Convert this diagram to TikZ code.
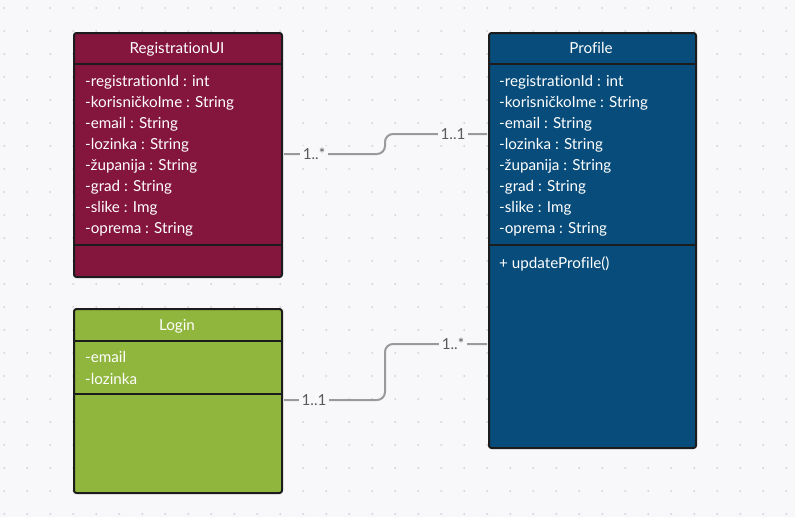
\documentclass[tikz,border=0pt]{standalone}
\usepackage{fontspec}
\setmainfont[Ligatures=NoCommon]{Lato}
\definecolor{bgc}{HTML}{F8F8FA}
\definecolor{dotc}{HTML}{D6D6DA}
\definecolor{regc}{HTML}{84153D}
\definecolor{profc}{HTML}{074C7A}
\definecolor{logc}{HTML}{90B63E}
\definecolor{edgec}{HTML}{1C1C1C}
\definecolor{connc}{HTML}{9A9A9A}
\definecolor{multc}{HTML}{5A5A5A}
\tikzset{
  umlbox/.style={draw=edgec, line width=2pt, rounded corners=2.5pt, inner sep=0pt, anchor=north west},
  sepline/.style={draw=edgec, line width=2pt},
  title/.style={text=white, font=\fontsize{15.2}{17}\selectfont, inner sep=0pt, text height=11pt, text depth=3pt},
  attr/.style={text=white, font=\fontsize{15.2}{17}\selectfont, inner sep=0pt, anchor=west, text height=11pt, text depth=3pt},
  conn/.style={draw=connc, line width=2pt, rounded corners=8pt},
  mult/.style={text=multc, fill=bgc, font=\fontsize{15.2}{17}\selectfont, inner sep=2.5pt, text height=11pt, text depth=3pt}
}
\begin{document}
\begin{tikzpicture}[x=1pt,y=-1pt]
\fill[bgc] (0,0) rectangle (795,517);
\useasboundingbox (0,0) rectangle (795,517);
\foreach \i in {0,...,34}{
  \foreach \j in {0,...,22}{
    \fill[dotc] ({4.3+23*\i},{8+23*\j}) circle (1.1);
  }
}
% RegistrationUI
\node[umlbox, fill=regc, minimum width=208pt, minimum height=244pt] (reg) at (73,32) {};
\draw[sepline] (reg.west |- 0,64) -- (reg.east |- 0,64);
\draw[sepline] (reg.west |- 0,245) -- (reg.east |- 0,245);
\node[title] (regt) at (177,49.5) {RegistrationUI};
\node[attr] (r1) at (85,82.5) {-registrationId : int};
\node[attr] (r2) at (85,103.5) {-korisničkoIme : String};
\node[attr] (r3) at (85,124.5) {-email : String};
\node[attr] (r4) at (85,145.5) {-lozinka : String};
\node[attr] (r5) at (85,166.5) {-županija : String};
\node[attr] (r6) at (85,187.5) {-grad : String};
\node[attr] (r7) at (85,208.5) {-slike : Img};
\node[attr] (r8) at (85,229.5) {-oprema : String};
% Profile
\node[umlbox, fill=profc, minimum width=207pt, minimum height=415pt] (prof) at (488,32) {};
\draw[sepline] (prof.west |- 0,64) -- (prof.east |- 0,64);
\draw[sepline] (prof.west |- 0,245) -- (prof.east |- 0,245);
\node[title] (proft) at (591,49.5) {Profile};
\node[attr] (p1) at (499,82.5) {-registrationId : int};
\node[attr] (p2) at (499,103.5) {-korisničkoIme : String};
\node[attr] (p3) at (499,124.5) {-email : String};
\node[attr] (p4) at (499,145.5) {-lozinka : String};
\node[attr] (p5) at (499,166.5) {-županija : String};
\node[attr] (p6) at (499,187.5) {-grad : String};
\node[attr] (p7) at (499,208.5) {-slike : Img};
\node[attr] (p8) at (499,229.5) {-oprema : String};
\node[attr] (pm1) at (499,264.5) {+ updateProfile()};
% Login
\node[umlbox, fill=logc, minimum width=208pt, minimum height=184pt] (log) at (73,308) {};
\draw[sepline] (log.west |- 0,341) -- (log.east |- 0,341);
\draw[sepline] (log.west |- 0,394) -- (log.east |- 0,394);
\node[title] (logt) at (177,326.5) {Login};
\node[attr] (l1) at (85,358.5) {-email};
\node[attr] (l2) at (85,380.5) {-lozinka};
% connectors
\coordinate (c1a) at (reg.east |- 0,154);
\coordinate (c1b) at (prof.west |- 0,134);
\draw[conn] ([xshift=1pt]c1a) -- (385,154) -- (385,134) -- ([xshift=-1pt]c1b);
\node[mult] (m1) at (314,155) {1..*};
\node[mult] (m2) at (453,135) {1..1};
\coordinate (c2a) at (log.east |- 0,400);
\coordinate (c2b) at (prof.west |- 0,344);
\draw[conn] ([xshift=1pt]c2a) -- (385,400) -- (385,344) -- ([xshift=-1pt]c2b);
\node[mult] (m3) at (314,401) {1..1};
\node[mult] (m4) at (453,345) {1..*};
\end{tikzpicture}
\end{document}
